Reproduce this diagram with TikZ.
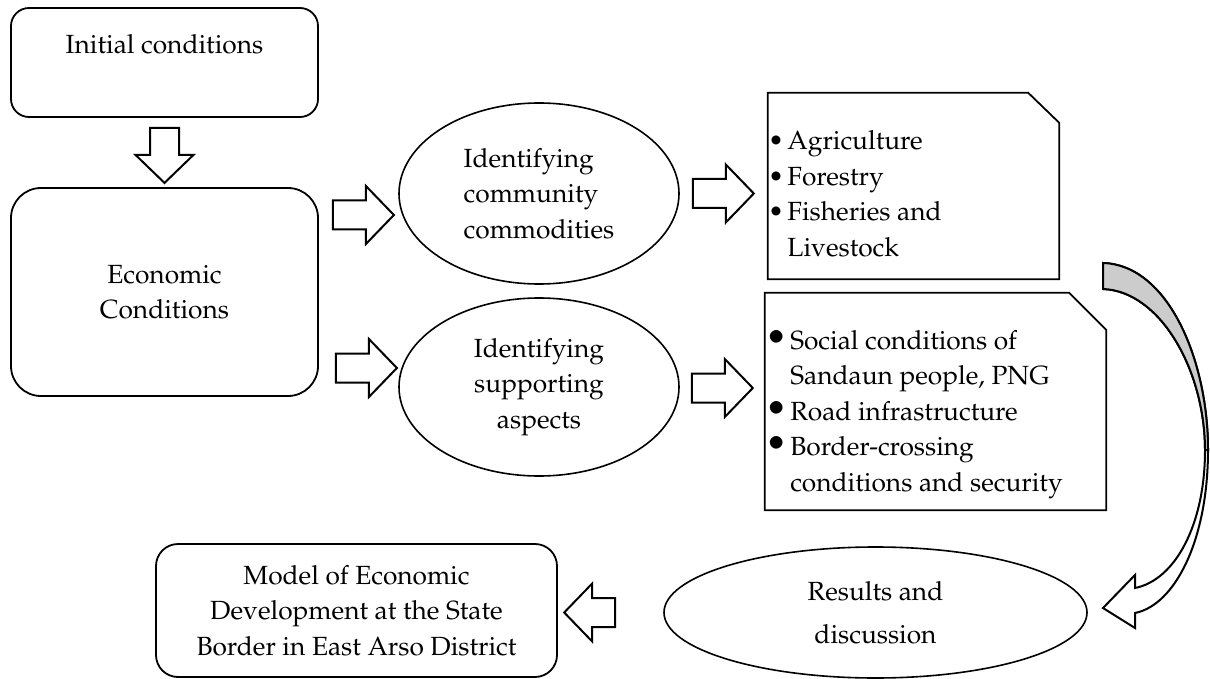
\documentclass[tikz,border=0pt]{standalone}
\usepackage[T1]{fontenc}
\usepackage{mathpazo}
\usepackage{graphicx}
\usetikzlibrary{shapes.geometric,calc}

\tikzset{
  boxline/.style={line width=1.8pt},
  roundbox/.style={draw, boxline, rectangle, inner sep=0pt, align=center},
  oval/.style={draw, line width=1.6pt, ellipse, inner sep=0pt},
  listbox/.style={inner sep=0pt},
  arrowline/.style={draw, line width=2pt, line join=miter},
  pics/blockarrow/.style={code={
    \filldraw[arrowline, fill=white] (0,-14.5) -- (#1-28,-14.5) -- (#1-28,-29) -- (#1,0)
      -- (#1-28,29) -- (#1-28,14.5) -- (0,14.5) -- cycle;}}
}

\begin{document}
\begin{tikzpicture}[x=1pt, y=-1pt, font=\fontsize{26.3}{35.5}\selectfont]
    \useasboundingbox (0,0) rectangle (1210,679);
    % left column
    \node[roundbox, rounded corners=18pt, minimum width=307pt, minimum height=109pt,
          text depth=38pt] (init) at (164.5,62.5) {Initial conditions};
    \node[roundbox, rounded corners=30pt, minimum width=307pt, minimum height=208pt]
          (econ) at (164.5,292) {Economic\\Conditions};

    % identifying steps
    \node[oval, minimum width=280pt, minimum height=181pt, align=left]
          (comm) at (539,193.5) {Identifying\\community\\commodities};
    \node[oval, minimum width=280pt, minimum height=178pt, align=center]
          (supp) at (539,387) {Identifying\\supporting\\aspects};

    % lists
    \node[listbox] (agri) at (913.5,186) {\parbox[c][186pt][t]{291pt}{%
        \rule{0pt}{57pt}\textbullet\hspace{3.5pt}Agriculture\\
        \textbullet\hspace{3.5pt}Forestry\\
        \textbullet\hspace{3.5pt}Fisheries and\\
        \phantom{\textbullet}\hspace{3.5pt}Livestock}};
    \draw[boxline] (agri.north west) -- ([xshift=-31pt]agri.north east)
        -- ([yshift=-30pt]agri.north east) -- (agri.south east) -- (agri.south west) -- cycle;

    \node[listbox] (aspect) at (935.5,401.5) {\parbox[c][217pt][t]{341pt}{%
        \rule{0pt}{56pt}\scalebox{1.4}{\textbullet}\hspace{3pt}Social conditions of\\
        \phantom{\scalebox{1.4}{\textbullet}}\hspace{3pt}Sandaun people, PNG\\
        \scalebox{1.4}{\textbullet}\hspace{3pt}Road infrastructure\\
        \scalebox{1.4}{\textbullet}\hspace{3pt}Border-crossing\\
        \phantom{\scalebox{1.4}{\textbullet}}\hspace{3pt}conditions and security}};
    \draw[boxline] (aspect.north west) -- ([xshift=-37pt]aspect.north east)
        -- ([yshift=-37pt]aspect.north east) -- (aspect.south east) -- (aspect.south west) -- cycle;

    % bottom row
    \node[oval, minimum width=423pt, minimum height=131pt, align=center]
          (results) at (875.5,612.5) {Results and\\[7.5pt]discussion};
    \node[roundbox, rounded corners=22pt, minimum width=401pt, minimum height=133pt]
          (model) at (356.5,610.5) {Model of Economic\\Development at the State\\Border in East Arso District};

    % block arrows
    \pic[rotate=-90] at ($(init.south)+(0,10)$) {blockarrow=55};
    \pic at ($(econ.east)+(14,-77)$) {blockarrow=61};
    \pic at ($(econ.east)+(17,76)$) {blockarrow=61};
    \pic at ($(comm.east)+(13,0)$) {blockarrow=61};
    \pic at ($(supp.east)+(12,1)$) {blockarrow=61};
    \pic[rotate=180] at ($(results.west)+(-48,0)$) {blockarrow=51};

    % curved arrow down to the results
    \filldraw[arrowline, fill=white] (1103,263) .. controls (1168,265) and (1208,360) .. (1208,450)
        .. controls (1208,540) and (1175,605) .. (1135,613) -- (1135,628) -- (1103,608)
        -- (1135,575) -- (1135,588) .. controls (1175,580) and (1205,525) .. (1205,450)
        .. controls (1205,370) and (1160,291) .. (1103,289) -- cycle;
    \filldraw[arrowline, fill=black!20] (1103,263) .. controls (1168,265) and (1208,360) .. (1208,450)
        -- (1205,450) .. controls (1205,370) and (1160,291) .. (1103,289) -- cycle;
\end{tikzpicture}
\end{document}
